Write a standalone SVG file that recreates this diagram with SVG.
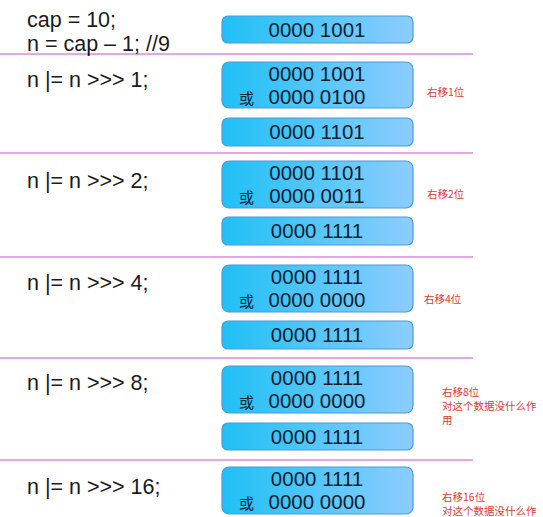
<svg xmlns="http://www.w3.org/2000/svg" width="543" height="517" viewBox="0 0 543 517">
<defs>
<linearGradient id="g" x1="0" y1="0" x2="1" y2="0">
<stop offset="0" stop-color="#1fc0f6"/>
<stop offset="1" stop-color="#8ccdfd"/>
</linearGradient>
<style>
.box{fill:url(#g);stroke:#4d9ad6;stroke-width:1.2}
.code{font-family:"Liberation Sans",Arial,sans-serif;font-size:21.5px;fill:#1a1a1a}
.bin{font-family:"Liberation Sans",Arial,sans-serif;font-size:20.5px;fill:#0d1f33;text-anchor:middle}
.or{font-family:"Noto Sans CJK SC",sans-serif;font-size:15px;fill:#0d1f33}
.note{font-family:"Noto Sans CJK SC",sans-serif;font-size:10.5px;fill:#e03a2f}
.sep{stroke:#e6a6e6;stroke-width:2}
</style>
</defs>
<g id="separators">
<line class="sep" x1="0" y1="54" x2="473" y2="54"/>
<line class="sep" x1="0" y1="153" x2="473" y2="153"/>
<line class="sep" x1="0" y1="257" x2="473" y2="257"/>
<line class="sep" x1="0" y1="358" x2="473" y2="358"/>
<line class="sep" x1="0" y1="460" x2="473" y2="460"/>
</g>
<g id="connectors"/>
<g id="s0">
<text class="code" x="27" y="27">cap = 10;</text>
<text class="code" x="27" y="51">n = cap – 1; //9</text>
<rect class="box" x="222" y="16" width="191" height="27" rx="6"/>
<text class="bin" x="317" y="37">0000 1001</text>
</g>
<g id="s1">
<text class="code" x="27" y="87">n |= n &gt;&gt;&gt; 1;</text>
<rect class="box" x="222" y="62" width="191" height="46" rx="7"/>
<text class="bin" x="317" y="81">0000 1001</text>
<text class="or" x="239" y="104">或</text>
<text class="bin" x="317" y="104">0000 0100</text>
<rect class="box" x="222" y="118" width="191" height="28" rx="6"/>
<text class="bin" x="317" y="139">0000 1101</text>
<text class="note" x="427" y="96">右移1位</text>
</g>
<g id="s2">
<text class="code" x="27" y="188">n |= n &gt;&gt;&gt; 2;</text>
<rect class="box" x="222" y="161" width="191" height="47" rx="7"/>
<text class="bin" x="317" y="180">0000 1101</text>
<text class="or" x="239" y="203">或</text>
<text class="bin" x="317" y="203">0000 0011</text>
<rect class="box" x="222" y="217" width="191" height="28" rx="6"/>
<text class="bin" x="317" y="238">0000 1111</text>
<text class="note" x="427" y="198">右移2位</text>
</g>
<g id="s3">
<text class="code" x="27" y="290">n |= n &gt;&gt;&gt; 4;</text>
<rect class="box" x="222" y="265" width="191" height="47" rx="7"/>
<text class="bin" x="317" y="284">0000 1111</text>
<text class="or" x="239" y="307">或</text>
<text class="bin" x="317" y="307">0000 0000</text>
<rect class="box" x="222" y="321" width="191" height="28" rx="6"/>
<text class="bin" x="317" y="342">0000 1111</text>
<text class="note" x="424" y="303">右移4位</text>
</g>
<g id="s4">
<text class="code" x="27" y="390">n |= n &gt;&gt;&gt; 8;</text>
<rect class="box" x="222" y="366" width="191" height="47" rx="7"/>
<text class="bin" x="317" y="385">0000 1111</text>
<text class="or" x="239" y="408">或</text>
<text class="bin" x="317" y="408">0000 0000</text>
<rect class="box" x="222" y="423" width="191" height="27" rx="6"/>
<text class="bin" x="317" y="444">0000 1111</text>
<text class="note" x="442" y="396">右移8位</text>
<text class="note" x="442" y="410">对这个数据没什么作</text>
<text class="note" x="442" y="424">用</text>
</g>
<g id="s5">
<text class="code" x="27" y="494">n |= n &gt;&gt;&gt; 16;</text>
<rect class="box" x="222" y="467" width="191" height="47" rx="7"/>
<text class="bin" x="317" y="486">0000 1111</text>
<text class="or" x="239" y="509">或</text>
<text class="bin" x="317" y="509">0000 0000</text>
<text class="note" x="442" y="501">右移16位</text>
<text class="note" x="442" y="515">对这个数据没什么作</text>
</g>
</svg>
